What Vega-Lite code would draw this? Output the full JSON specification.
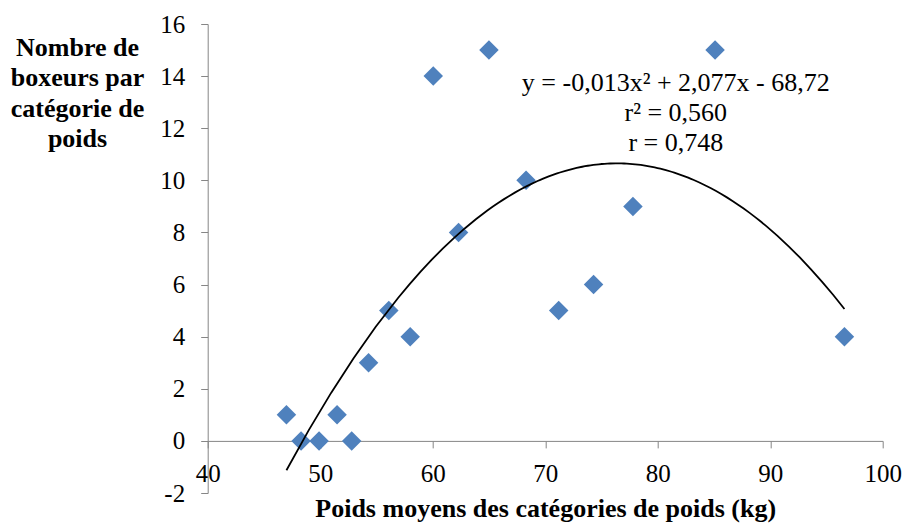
{
  "$schema": "https://vega.github.io/schema/vega-lite/v6.json",
  "autosize": "none",
  "width": 675,
  "height": 469,
  "padding": {"left": 207.7, "top": 24, "right": 21.3, "bottom": 35},
  "background": "white",
  "config": {
    "view": {"stroke": null},
    "font": "Liberation Serif",
    "axis": {
      "labelFont": "Liberation Serif",
      "titleFont": "Liberation Serif",
      "labelColor": "black",
      "titleColor": "black",
      "domainColor": "#868686",
      "tickColor": "#868686",
      "grid": false,
      "labelFontSize": 25,
      "titleFontSize": 26,
      "titleFontWeight": "bold",
      "tickSize": 7
    }
  },
  "data": {
    "values": [
      {"poids": 47.0, "boxeurs": 1},
      {"poids": 48.3, "boxeurs": 0},
      {"poids": 49.9, "boxeurs": 0},
      {"poids": 51.5, "boxeurs": 1},
      {"poids": 52.8, "boxeurs": 0},
      {"poids": 54.3, "boxeurs": 3},
      {"poids": 56.1, "boxeurs": 5},
      {"poids": 58.0, "boxeurs": 4},
      {"poids": 60.05, "boxeurs": 14},
      {"poids": 62.3, "boxeurs": 8},
      {"poids": 65.0, "boxeurs": 15},
      {"poids": 68.3, "boxeurs": 10},
      {"poids": 71.2, "boxeurs": 5},
      {"poids": 74.3, "boxeurs": 6},
      {"poids": 77.8, "boxeurs": 9},
      {"poids": 85.1, "boxeurs": 15},
      {"poids": 96.6, "boxeurs": 4}
    ]
  },
  "layer": [
    {
      "mark": {"type": "point", "shape": "diamond", "filled": true, "size": 380, "color": "#4F81BD", "opacity": 1},
      "encoding": {
        "x": {
          "field": "poids", "type": "quantitative",
          "scale": {"domain": [40, 100], "nice": false, "zero": false},
          "axis": {
            "values": [40, 50, 60, 70, 80, 90, 100],
            "offset": -52.1,
            "labelPadding": 14,
            "labelBaseline": "top",
            "labelFlush": false,
            "title": "Poids moyens des catégories de poids (kg)",
            "titleY": 75.7,
            "titleBaseline": "alphabetic"
          }
        },
        "y": {
          "field": "boxeurs", "type": "quantitative",
          "scale": {"domain": [-2, 16], "nice": false, "zero": false},
          "axis": {
            "values": [-2, 0, 2, 4, 6, 8, 10, 12, 14, 16],
            "labelExpr": "datum.value < 0 ? '-' + abs(datum.value) : datum.label",
            "labelPadding": 16,
            "labelFlush": false,
            "title": ["Nombre de", "boxeurs par", "catégorie de", "poids"],
            "titleAngle": 0,
            "titleAlign": "center",
            "titleBaseline": "alphabetic",
            "titleX": -130.7,
            "titleY": 31,
            "titleLineHeight": 30.6
          }
        }
      }
    },
    {
      "transform": [
        {"regression": "boxeurs", "on": "poids", "method": "poly", "order": 2}
      ],
      "mark": {"type": "line", "color": "black", "strokeWidth": 1.8},
      "encoding": {
        "x": {"field": "poids", "type": "quantitative"},
        "y": {"field": "boxeurs", "type": "quantitative"}
      }
    },
    {
      "data": {"values": [{"eq": "y = -0,013x² + 2,077x - 68,72"}]},
      "mark": {
        "type": "text",
        "text": ["y = -0,013x² + 2,077x - 68,72", "r² = 0,560", "r = 0,748"],
        "font": "Liberation Serif",
        "fontSize": 26,
        "align": "center",
        "baseline": "alphabetic",
        "lineHeight": 30,
        "color": "black"
      },
      "encoding": {
        "x": {"datum": 81.61, "type": "quantitative"},
        "y": {"datum": 13.44, "type": "quantitative"}
      }
    }
  ]
}
